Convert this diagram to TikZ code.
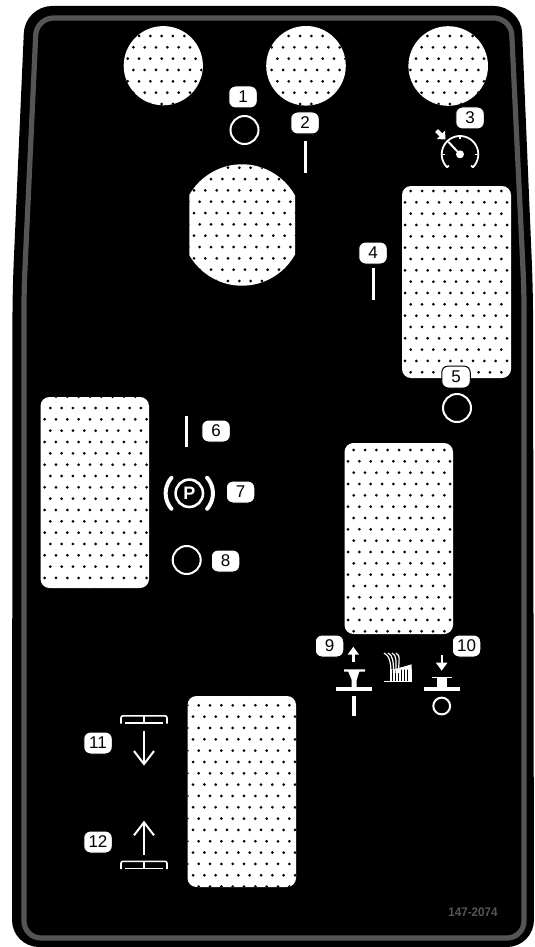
\documentclass[tikz,border=0pt]{standalone}
\usepackage{fontspec}
\setmainfont{Liberation Sans}
\definecolor{panel}{RGB}{0,0,0}
\definecolor{rim}{RGB}{85,85,85}
\definecolor{dotted}{RGB}{88,88,88}
\usetikzlibrary{arrows.meta,positioning,calc}
\tikzset{
  badge/.style={fill=white, draw=black, line width=1pt, text=black, rounded corners=6.5pt, minimum width=28.5pt, minimum height=22pt, inner sep=0pt, font=\fontsize{17}{17}\selectfont},
  mark line/.style={white, line width=2.6pt},
  ring/.style={draw=white, line width=2pt},
  icon/.style={white, line width=2pt}
}
% dotted blank: #1 clip path, #2 first dot x, #3 first dot y
\newcommand{\blank}[3]{%
  \begin{scope}
    \clip #1;
    \fill[white] (0,0) rectangle (535,947);
    \foreach \r in {-1,...,18}
      \foreach \c in {-1,...,11} {
        \pgfmathsetmacro{\dx}{#2+11.33*\c+(mod(\r+2,2)==1 ? -5.66 : 0)}
        \pgfmathsetmacro{\dy}{#3+11.33*\r}
        \fill[dotted] (\dx,\dy) circle (1.5);
      }
  \end{scope}}
% arc in plain angles: #1 style, #2 cx, #3 cy, #4 radius, #5 from, #6 to
\newcommand{\sweep}[6]{%
  \draw[#1, line cap=round] plot[smooth, samples=30, domain=#5:#6, variable=\t] ({#2+#4*cos(\t)},{#3-#4*sin(\t)});}
\newcommand{\bracketsign}[1]{%
  \begin{scope}[shift={(144,#1)}]
    \draw[white, line width=1.6pt, rounded corners=2pt] (-23,8.5) -- (-23,0.8) -- (23,0.8) -- (23,8.5);
    \draw[white, line width=1.4pt] (-19,7.8) -- (19,7.8) (0,0.8) -- (0,7.8);
  \end{scope}}
\begin{document}
\begin{tikzpicture}[x=1pt,y=-1pt]
  \useasboundingbox (0,0) rectangle (535,947);
  \fill[white] (0,0) rectangle (535,947);
  % plate
  \fill[panel, rounded corners=27pt] (25,6) -- (521,6) -- (533,290) -- (534,947) -- (12,947) -- (12.5,290) -- cycle;
  \draw[rim, line width=5.2pt, rounded corners=17pt] (36.5,18) -- (511,18) -- (524,290) -- (524,938) -- (24,938) -- (24,290) -- cycle;
  % blanks
  \blank{(163.3,65.7) circle (39.6)}{139}{36}
  \blank{(306,65.8) circle (39.8)}{288.7}{36}
  \blank{(448.2,66) circle (39.8)}{427.3}{36}
  \blank{(189.3,155) rectangle (295,295); \clip (242,225) circle (60.7)}{194}{167.7}
  \blank{[rounded corners=9pt] (402,186) rectangle (511,378)}{410.7}{191}
  \blank{[rounded corners=9pt] (40.5,397) rectangle (149,588)}{50.3}{408}
  \blank{[rounded corners=9pt] (344.5,443) rectangle (453,634)}{353.7}{450}
  \blank{[rounded corners=9pt] (187.5,696) rectangle (296,887)}{198.7}{705.3}
  % callouts
  \node[badge] (n1) at (243,97) {1};
  \node[badge] (n2) at (305,123) {2};
  \node[badge] (n3) at (470,118) {3};
  \node[badge] (n4) at (373,253) {4};
  \node[badge] (n5) at (456,377) {5};
  \node[badge] (n6) at (216,431) {6};
  \node[badge] (n7) at (240.5,492) {7};
  \node[badge] (n8) at (225.5,561) {8};
  \node[badge] (n9) at (329.5,646) {9};
  \node[badge] (n10) at (466.5,646) {10};
  \node[badge] (n11) at (98,743) {11};
  \node[badge] (n12) at (98,842) {12};
  % plain marks
  \draw[mark line] (305.5,141) -- (305.5,173);
  \draw[mark line] (373.5,268) -- (373.5,300);
  \draw[mark line] (186.5,416) -- (186.5,447);
  \draw[ring] (244.5,130) circle (14);
  \draw[ring] (457,408) circle (14);
  \draw[ring] (186.7,560) circle (14);
  % gauge
  \fill[white] (460,154.3) circle (4);
  \draw[icon] (460,154.3) -- (448.3,141.7);
  \sweep{white, line width=1.8pt}{460}{154.3}{18.3}{-45}{225}
  \foreach \a in {180,270,0}
    \draw[white, line width=1.4pt] (460,154.3) ++(\a:15) -- ++(\a:3);
  \draw[white, line width=1.8pt] (447,167.3) -- ++(1.8,-1.8) (473,167.3) -- ++(-1.8,-1.8);
  \fill[white] (445.5,139.5) -- (445,130.5) -- (437,139) -- cycle;
  \draw[white, line width=4pt] (441,135) -- (436.5,130.5);
  % parking
  \draw[white, line width=2.6pt] (189.3,493.3) circle (13.7);
  \node[text=white, inner sep=0pt, font=\bfseries\fontsize{18}{18}\selectfont] (park) at (189.3,493.3) {P};
  \sweep{white, line width=4pt}{189.3}{493.3}{23.6}{139}{221}
  \sweep{white, line width=4pt}{189.3}{493.3}{23.6}{-41}{41}
  % pull
  \draw[-{Triangle[width=11pt,length=8pt]}, white, line width=2.4pt] (353.3,662) -- (353.3,646.7);
  \fill[white] (344,669.3) -- (365,669.3) -- (365,671.7) -- (359.3,671.7) -- (356.7,680) -- (356.7,687) -- (351.7,687) -- (351.7,680) -- (348.3,671.7) -- (344,671.7) -- cycle;
  \fill[white] (336,686.7) rectangle (372,691);
  \draw[white, line width=3.8pt] (354,695.7) -- (354,715.7);
  % push
  \draw[-{Triangle[width=11pt,length=8pt]}, white, line width=2.4pt] (441.7,655) -- (441.7,670.7);
  \fill[white] (431.7,676.7) rectangle (452.3,678.3);
  \fill[white] (436.7,678.3) rectangle (447.3,687);
  \fill[white] (424,686.7) rectangle (460,691);
  \draw[ring] (441.7,706) circle (8.4);
  % middle symbol
  \draw[white, line width=1.2pt] (384,681.7) -- (412,681.7);
  \fill[white] (397,668.5) -- (411.7,664.3) -- (411.7,669.5) -- (391,669.5) -- cycle;
  \foreach \x in {391,394,397,400,403,406,409,411}
    \draw[white, line width=1.5pt] (\x,669) -- (\x,681);
  \foreach \s/\e in {384/391,388/393.5,392/396,396/398.5}
    \draw[white, line width=1.2pt] (\s,653) .. controls (\s+5,655) and (\e,662) .. (\e,673);
  % pedals
  \bracketsign{715}
  \draw[-{Straight Barb[width=20pt,length=13pt]}, white, line width=2pt] (144,730.7) -- (144,765.7);
  \draw[-{Straight Barb[width=20pt,length=13pt]}, white, line width=2pt] (144,855) -- (144,820.7);
  \bracketsign{860.5}
  \node[text=rim, inner sep=0pt, xscale=0.93, transform shape, font=\bfseries\fontsize{12.5}{12.5}\selectfont] (code) at (473,912.5) {147-2074};
\end{tikzpicture}
\end{document}
